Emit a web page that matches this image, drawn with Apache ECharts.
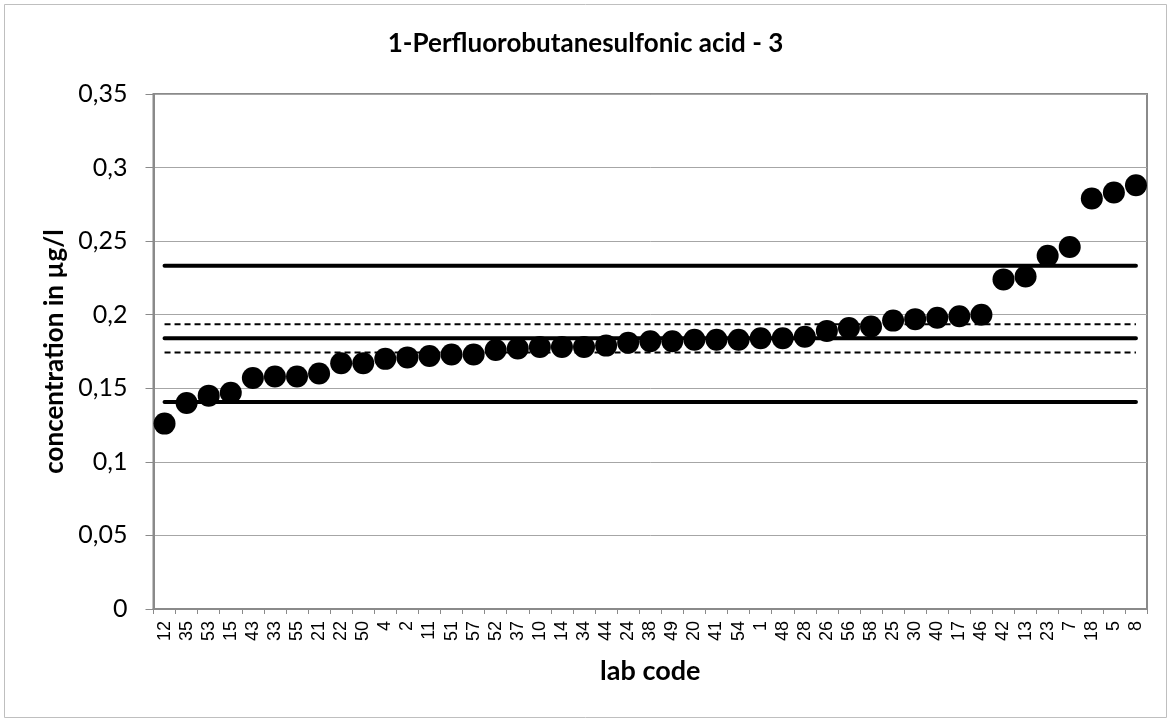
<!DOCTYPE html>
<html>
<head>
<meta charset="utf-8">
<script src="https://cdn.jsdelivr.net/npm/echarts@6/dist/echarts.min.js"></script>
<style>
html,body{margin:0;padding:0;background:#fff;}
#chart{width:1171px;height:722px;}
</style>
</head>
<body>
<div id="chart"></div>
<script>
const titleText = '1-Perfluorobutanesulfonic acid - 3';
const labCodes = ['12','35','53','15','43','33','55','21','22','50','4','2','11','51','57','52','37','10','14','34','44','24','38','49','20','41','54','1','48','28','26','56','58','25','30','40','17','46','42','13','23','7','18','5','8'];
const concentrations = [0.126,0.140,0.145,0.147,0.157,0.158,0.158,0.160,0.167,0.167,0.170,0.171,0.172,0.173,0.173,0.176,0.177,0.178,0.178,0.178,0.179,0.181,0.182,0.182,0.183,0.183,0.183,0.184,0.184,0.185,0.189,0.191,0.192,0.196,0.197,0.198,0.199,0.200,0.224,0.226,0.240,0.246,0.279,0.283,0.288];
const assignedValue = 0.184;
const upperLimit = 0.2333;
const lowerLimit = 0.1407;
const upperUncert = 0.1935;
const lowerUncert = 0.1743;

const constLine = v => labCodes.map(() => v);
const calibri = 'Lato, "Open Sans", sans-serif';

const chart = echarts.init(document.getElementById('chart'), null, {renderer:'canvas'});
function lineSeries(name, v, dashed){
  return {
    name, type:'line', data: constLine(v), showSymbol:false, symbol:'none',
    silent:true, z:1,
    lineStyle:{color:'#000', width: dashed ? 2 : 4, type: dashed ? [6,4] : 'solid', cap: dashed ? 'butt' : 'round'}
  };
}
chart.setOption({
  animation:false,
  backgroundColor:'#fff',
  title:{text:titleText, left:'center', top:26,
    textStyle:{fontFamily:calibri, fontWeight:'bold', fontSize:26, color:'#000'}},
  graphic:[{type:'rect', shape:{x:4.5,y:4.5,width:1162,height:713},
    style:{fill:'none', stroke:'#bfbfbf', lineWidth:1}, silent:true, z:-1}],
  grid:{left:153.5, right:24, top:94, bottom:113, show:true, borderColor:'#8a8a8a', borderWidth:2, backgroundColor:'transparent'},
  xAxis:{
    type:'category', data:labCodes, boundaryGap:true,
    name:'lab code', nameLocation:'middle', nameGap:49,
    nameTextStyle:{fontFamily:calibri, fontWeight:'bold', fontSize:27, color:'#000'},
    axisLine:{lineStyle:{color:'#8a8a8a', width:2}},
    axisTick:{show:true, alignWithLabel:false, length:5, lineStyle:{color:'#8a8a8a', width:1}},
    axisLabel:{rotate:90, interval:0, margin:12, fontFamily:'"Liberation Sans", Arial, sans-serif', fontSize:18, color:'#000'},
    splitLine:{show:false}
  },
  yAxis:{
    type:'value', min:0, max:0.35, interval:0.05,
    name:'concentration in µg/l', nameLocation:'middle', nameGap:84, nameRotate:90,
    nameTextStyle:{fontFamily:calibri, fontWeight:'bold', fontSize:26, color:'#000'},
    axisLine:{show:true, lineStyle:{color:'#8a8a8a', width:2}},
    axisTick:{show:true, length:8, lineStyle:{color:'#8a8a8a', width:1}},
    axisLabel:{margin:26, fontFamily:calibri, fontSize:25, color:'#000',
      formatter: v => String(+v.toFixed(2)).replace('.', ',')},
    splitLine:{show:true, lineStyle:{color:'#a6a6a6', width:1}}
  },
  series:[
    lineSeries('upper limit', upperLimit, false),
    lineSeries('assigned value', assignedValue, false),
    lineSeries('lower limit', lowerLimit, false),
    lineSeries('upper uncertainty', upperUncert, true),
    lineSeries('lower uncertainty', lowerUncert, true),
    {name:'labs', type:'scatter', data:concentrations, symbol:'circle', symbolSize:22,
     itemStyle:{color:'#000', opacity:1}, z:5}
  ]
});
</script>
</body>
</html>
